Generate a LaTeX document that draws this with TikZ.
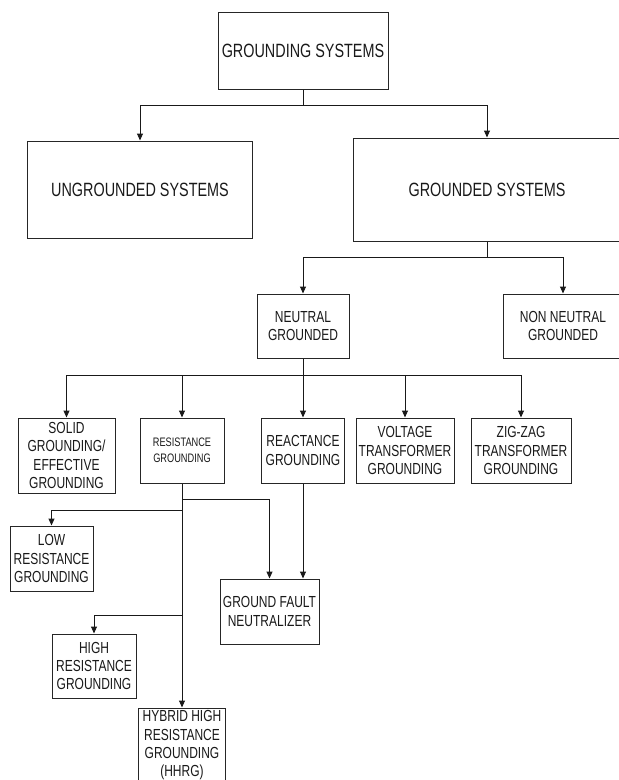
\documentclass[tikz,border=0pt]{standalone}
\usepackage{fontspec}
\setmainfont{Liberation Sans}[FakeStretch=0.75]
\usetikzlibrary{arrows.meta}
\tikzset{
  bx/.style={draw=black!85, line width=1pt, rectangle, align=center, inner sep=1pt, text=black!90},
  big/.style={font=\fontsize{19.2}{21}\selectfont},
  mid/.style={font=\fontsize{16}{18.3}\selectfont},
  sml/.style={font=\fontsize{12.3}{15.5}\selectfont},
  ln/.style={draw=black!90, line width=1pt},
  arr/.style={ln, -{Triangle[width=6pt,length=7pt]}}
}
\begin{document}
\begin{tikzpicture}[x=1pt,y=-1pt]
\useasboundingbox (0,0) rectangle (619,780);
% level 0-1
\node[bx,big,minimum width=170,minimum height=77] (top) at (303,50.5) {GROUNDING SYSTEMS};
\node[bx,big,minimum width=225,minimum height=97] (ungr) at (140,189.5) {UNGROUNDED SYSTEMS};
\node[bx,big,minimum width=268,minimum height=103] (gr) at (487,189.5) {GROUNDED SYSTEMS};
% level 2
\node[bx,mid,minimum width=92,minimum height=64] (neu) at (303,326) {NEUTRAL\\GROUNDED};
\node[bx,mid,minimum width=120,minimum height=64] (non) at (563,326) {NON NEUTRAL\\GROUNDED};
% level 3
\node[bx,mid,minimum width=97,minimum height=75] (solid) at (66.5,455.5) {SOLID\\GROUNDING/\\EFFECTIVE\\GROUNDING};
\node[bx,sml,minimum width=84,minimum height=65] (res) at (182,450.5) {RESISTANCE\\GROUNDING};
\node[bx,mid,minimum width=83,minimum height=65] (reac) at (303,450.5) {REACTANCE\\GROUNDING};
\node[bx,mid,minimum width=98,minimum height=65] (volt) at (405,450.5) {VOLTAGE\\TRANSFORMER\\GROUNDING};
\node[bx,mid,minimum width=100,minimum height=65] (zig) at (521,450.5) {ZIG-ZAG\\TRANSFORMER\\GROUNDING};
% level 4
\node[bx,mid,minimum width=83,minimum height=65] (low) at (51.5,558.5) {LOW\\RESISTANCE\\GROUNDING};
\node[bx,mid,minimum width=99,minimum height=65] (gfn) at (269.5,611.5) {GROUND FAULT\\NEUTRALIZER};
\node[bx,mid,minimum width=84,minimum height=64] (high) at (94,666) {HIGH\\RESISTANCE\\GROUNDING};
\node[bx,mid,minimum width=87,minimum height=75] (hhrg) at (182,745.5) {HYBRID HIGH\\RESISTANCE\\GROUNDING\\(HHRG)};
% junctions
\coordinate (j1) at (303,105);
\coordinate (j2) at (487,257);
\coordinate (j3) at (303,375);
\coordinate (j4) at (182,499);
\coordinate (j5) at (182,510);
\coordinate (j6) at (182,615);
% connectors
\draw[ln] (top.south) -- (j1);
\draw[arr] (j1) -| (ungr.north);
\draw[arr] (j1) -| (gr.north);
\draw[ln] (gr.south) -- (j2);
\draw[arr] (j2) -| (neu.north);
\draw[arr] (j2) -| (non.north);
\draw[ln] (neu.south) -- (j3);
\draw[arr] (j3) -| (solid.north);
\draw[arr] (j3) -| (res.north);
\draw[arr] (j3) -- (reac.north);
\draw[arr] (j3) -| (volt.north);
\draw[arr] (j3) -| (zig.north);
\draw[arr] (res.south) -- (hhrg.north);
\draw[arr] (j4) -| (gfn.north);
\draw[arr] (j5) -| (low.north);
\draw[arr] (j6) -| (high.north);
\draw[arr] (reac.south) -- (reac.south |- gfn.north);
\end{tikzpicture}
\end{document}
